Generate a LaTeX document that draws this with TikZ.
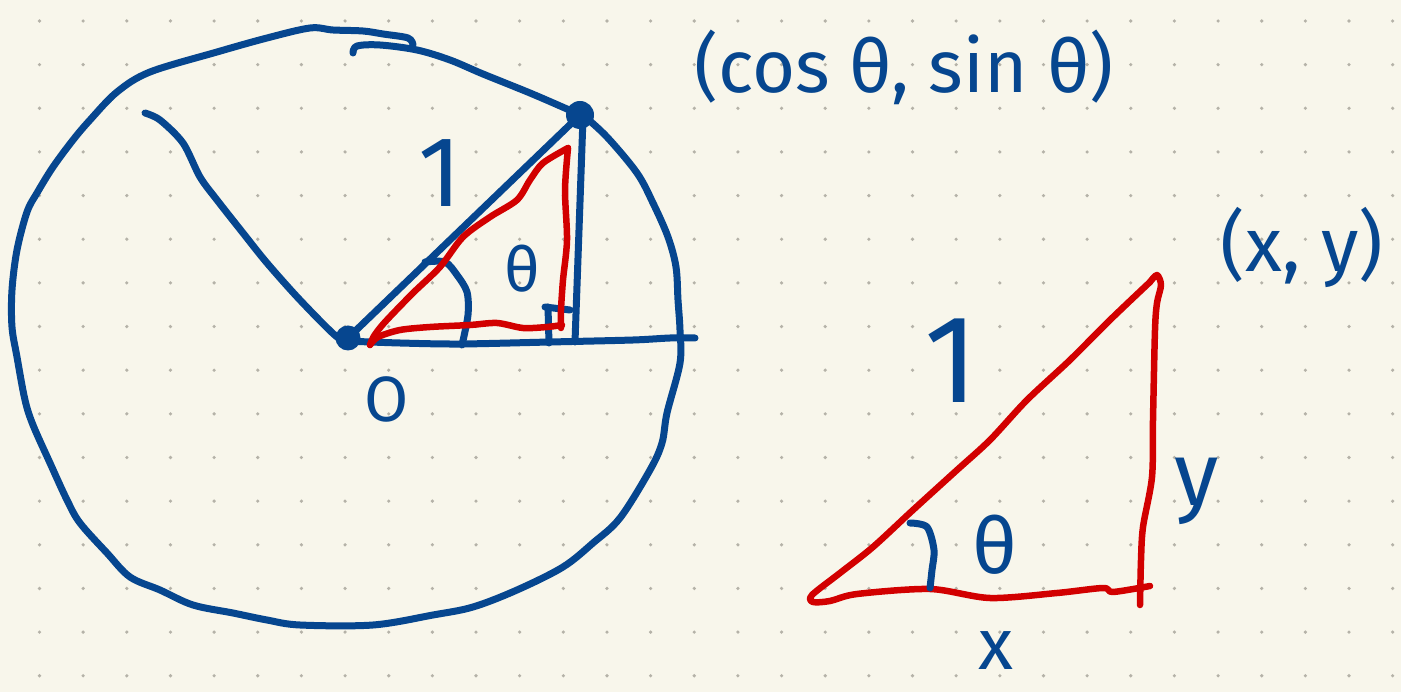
\documentclass[tikz,border=0pt]{standalone}
\usepackage{fontspec}
\setmainfont{Fira Sans}
\definecolor{paper}{HTML}{F8F6EB}
\definecolor{ink}{HTML}{06468F}
\definecolor{redink}{HTML}{D20000}
\definecolor{gdot}{HTML}{B5B2A8}
\begin{document}
\begin{tikzpicture}[x=1pt,y=-1pt,
  pen/.style={ink, line width=7pt, line cap=round, line join=round},
  redpen/.style={redink, line width=6.5pt, line cap=round, line join=round},
  lbl/.style={ink, inner sep=0pt, anchor=base},
  blob/.style={circle, fill=ink, inner sep=0pt, minimum size=#1}]
\fill[paper] (0,0) rectangle (1401,692);
\useasboundingbox (0,0) rectangle (1401,692);
\foreach \i in {0,...,31}
  \foreach \j in {0,...,15}
    \fill[gdot] ({39.5+43.65*\i},{21+43.65*\j}) circle (1.8pt);

% key points
\node[blob=25pt] (O) at (348,338) {};
\node[blob=28pt] (P) at (580,115) {};

% unit circle (hand drawn)
\draw[pen] plot[smooth, tension=0.55] coordinates {(413,45) (408,38) (383,34) (363,31) (333,30) (310,28) (267,38) (217,52) (150,72) (117,92) (90,120) (73,140) (53,167) (37,193) (27,212) (17,250) (12,290) (12,327) (17,357) (25,400) (33,425) (50,463) (67,500) (80,523) (107,553) (130,577) (160,590) (193,605) (233,613) (267,620) (300,625) (373,625) (433,615) (473,607) (517,590) (563,567) (593,543) (620,518) (650,470) (662,443) (667,413) (680,363) (680,330) (678,300) (676,267) (668,237) (653,203) (637,173) (607,137) (583,115)};
\draw[pen] plot[smooth, tension=0.55] coordinates {(353,53) (357,46) (380,45) (417,50) (450,60) (483,74) (530,93) (567,109) (580,115)};

% radial line to upper left
\draw[pen] plot[smooth, tension=0.5] coordinates {(145,113) (160,120) (183,143) (200,177) (217,200) (243,233) (267,263) (300,300) (337,337) (348,338)};

% axis
\draw[pen] plot[smooth, tension=0.5] coordinates {(345,341) (400,343) (460,344) (550,342) (633,340) (670,338) (695,338)};

% radius and vertical
\draw[pen] (O.center) -- (P.center);
\draw[pen] (583,118) -- (575,342);

% angle arc and right angle mark
\draw[pen] plot[smooth, tension=0.5] coordinates {(425,262) (445,262) (457,275) (467,292) (468,315) (462,345)};
\draw[pen] (548,307) -- (549,343);
\draw[pen] (545,307) -- (570,310);

% red inner triangle
\draw[redpen] plot[smooth, tension=0.5] coordinates {(370,345) (378,337) (400,330) (430,327) (470,325) (497,323) (523,328) (547,327) (562,325)};
\draw[redpen] plot[smooth, tension=0.5] coordinates {(561,328) (561,310) (563,280) (567,240) (565,190) (568,148)};
\draw[redpen] plot[smooth, tension=0.5] coordinates {(568,148) (543,163) (530,180) (517,200) (490,217) (463,237) (440,267) (413,293) (385,322) (374,336) (370,345)};

% right triangle
\draw[redpen] plot[smooth, tension=0.5] coordinates {(1150,282) (1110,320) (1070,360) (1027,400) (990,440) (957,470) (913,510) (873,547) (840,573) (812,595) (813,602) (830,601) (857,594) (930,589) (990,598) (1057,593) (1103,588) (1113,592) (1150,586)};
\draw[redpen] plot[smooth, tension=0.5] coordinates {(1150,282) (1157,275) (1161,285) (1157,303) (1155,330) (1153,420) (1152,477) (1143,527) (1141,560) (1140,605)};
\draw[pen] plot[smooth, tension=0.5] coordinates {(910,523) (927,527) (934,550) (932,570) (930,588)};

% labels
\node[lbl, font=\fontsize{74}{80}\selectfont] (pt) at (904,93) {(cos θ, sin θ)};
\node[lbl, font=\fontsize{100}{100}\selectfont] (one1) at (440,207) {1};
\node[lbl, font=\fontsize{62}{62}\selectfont] (th1) at (522,292) {θ};
\node[lbl, font=\fontsize{64}{64}\selectfont] (Olbl) at (387,422) {O};
\node[lbl, font=\fontsize{76}{80}\selectfont] (xy) at (1302,272) {(x, y)};
\node[lbl, font=\fontsize{125}{125}\selectfont] (one2) at (952,403) {1};
\node[lbl, font=\fontsize{78}{78}\selectfont] (th2) at (995,573) {θ};
\node[lbl, font=\fontsize{72}{72}\selectfont] (xl) at (996,669) {x};
\node[lbl, font=\fontsize{90}{90}\selectfont] (yl) at (1197,505) {y};
\end{tikzpicture}
\end{document}
